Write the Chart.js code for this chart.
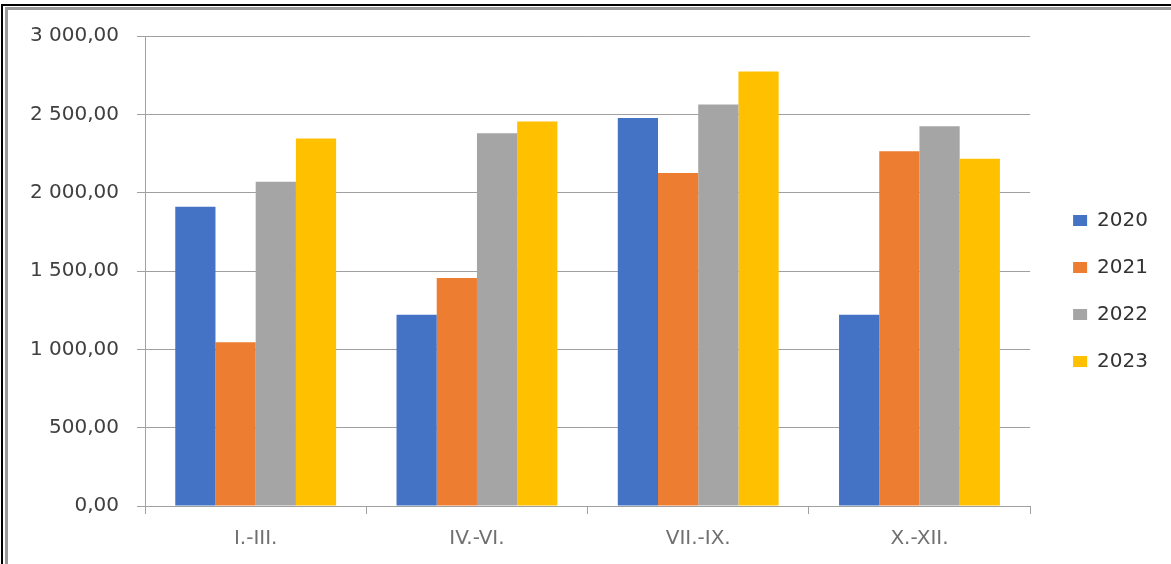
<!DOCTYPE html>
<html>
<head>
<meta charset="utf-8">
<script src="https://cdn.jsdelivr.net/npm/chart.js@4/dist/chart.umd.min.js"></script>
<style>
  html, body { margin: 0; padding: 0; background: #fff; }
  #wrap { position: relative; width: 1171px; height: 564px; overflow: hidden; background: #fff; }
  #c { position: absolute; left: 0; top: 0; }
  .f1 { position: absolute; left: 1px; top: 4px; width: 2000px; height: 1000px; border-left: 2px solid #000; border-top: 2px solid #000; }
  .f2 { position: absolute; left: 5px; top: 7px; width: 2000px; height: 1000px; border-left: 3px solid #9a9a9a; border-top: 3px solid #9a9a9a; }
</style>
</head>
<body>
<div id="wrap">
  <canvas id="c" width="1171" height="564"></canvas>
  <div class="f1"></div>
  <div class="f2"></div>
</div>
<script>
const categories = ["I.-III.", "IV.-VI.", "VII.-IX.", "X.-XII."];
const seriesNames = ["2020", "2021", "2022", "2023"];
const values2020 = [1910, 1220, 2477, 1220];
const values2021 = [1045, 1455, 2126, 2264];
const values2022 = [2070, 2380, 2562, 2424];
const values2023 = [2345, 2455, 2774, 2216];
const seriesColors = ["#4472C4", "#ED7D31", "#A5A5A5", "#FFC000"];
const yMin = 0, yMax = 3000, yStep = 500;

function fmt(v) {
  const parts = Number(v).toFixed(2).split(".");
  const int = parts[0].replace(/\B(?=(\d{3})+(?!\d))/g, " ");
  return int + "," + parts[1];
}

const allValues = [values2020, values2021, values2022, values2023];
const datasets = seriesNames.map((n, i) => ({
  label: n,
  data: allValues[i],
  backgroundColor: seriesColors[i],
  borderWidth: 0,
  categoryPercentage: 0.727,
  barPercentage: 1.0
}));

const FONT = "'DejaVu Sans', Verdana, sans-serif";

new Chart(document.getElementById("c"), {
  type: "bar",
  data: { labels: categories, datasets },
  options: {
    responsive: false,
    animation: false,
    devicePixelRatio: 1,
    layout: { padding: { left: 12, top: 36, right: 13, bottom: 0 } },
    plugins: {
      tooltip: { enabled: false },
      legend: {
        position: "right",
        fullSize: false,
        title: { display: true, text: " ", padding: 8, font: { family: FONT, size: 20 } },
        labels: {
          boxWidth: 14,
          boxHeight: 11,
          padding: 27,
          color: "#333",
          font: { family: FONT, size: 20 }
        }
      }
    },
    scales: {
      x: {
        grid: { display: true, drawOnChartArea: false, drawTicks: true, tickLength: 8, color: "#a0a0a0", offset: true },
        border: { display: true, color: "#a0a0a0", width: 1 },
        ticks: { color: "#707070", padding: 13, font: { family: FONT, size: 20 } }
      },
      y: {
        min: yMin, max: yMax,
        grid: { color: "#a0a0a0", lineWidth: 1, tickLength: 8, drawTicks: true },
        border: { display: true, color: "#a0a0a0", width: 1 },
        ticks: { stepSize: yStep, color: "#404040", padding: 18, font: { family: FONT, size: 20 }, callback: v => fmt(v) }
      },
      yGap: {
        position: "right",
        display: true,
        grid: { display: false, drawTicks: false },
        border: { display: false },
        ticks: { display: false },
        afterFit: s => { s.width = 16; }
      }
    }
  }
});
</script>
</body>
</html>
